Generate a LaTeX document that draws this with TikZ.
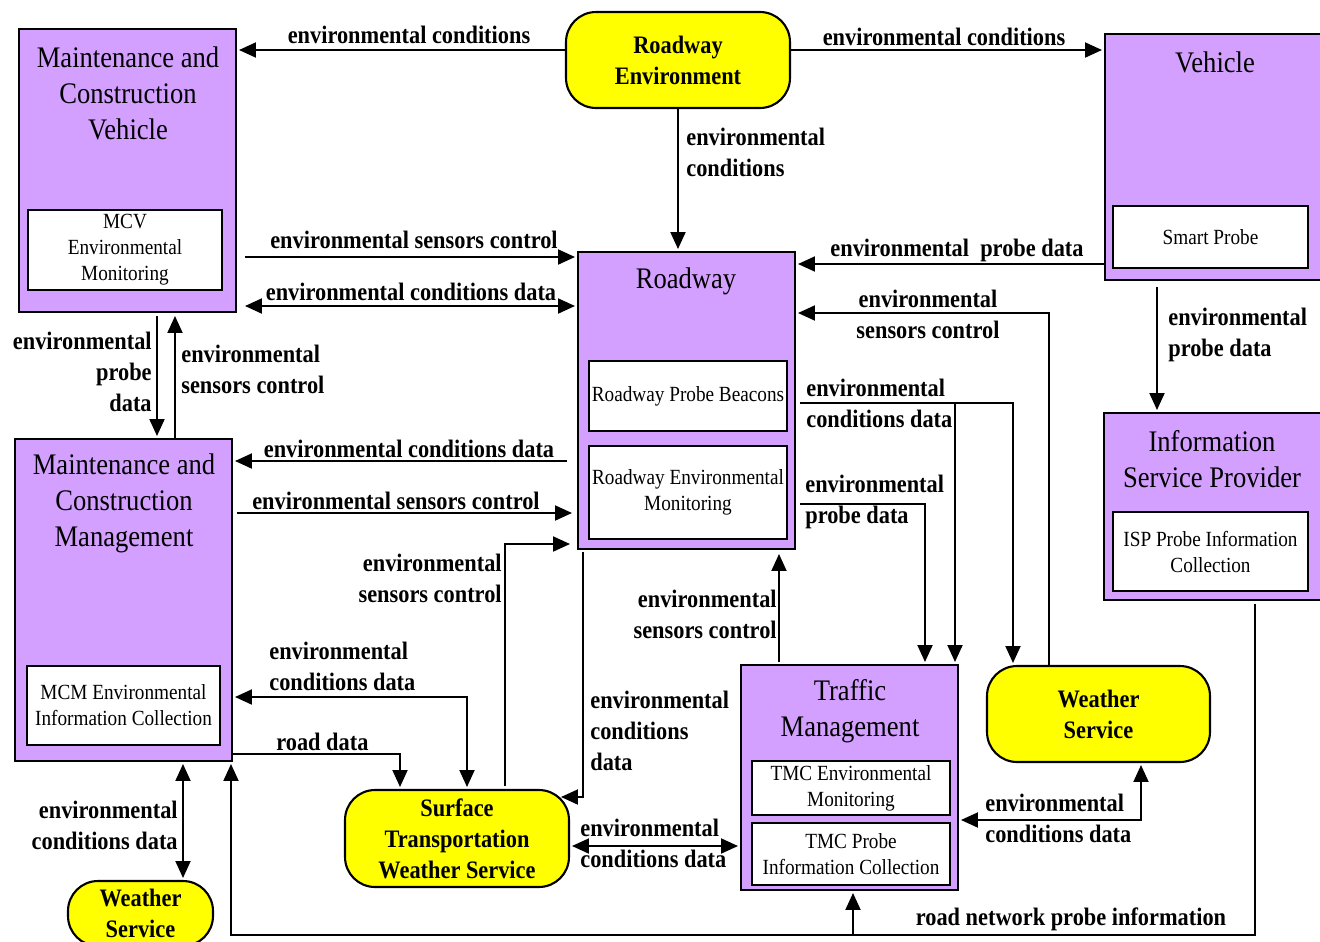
\documentclass[tikz,border=0pt]{standalone}
\usepackage{fontspec}
\setmainfont{Liberation Serif}[FakeStretch=0.89]
\usetikzlibrary{arrows.meta}
\definecolor{lav}{RGB}{212,160,255}
\definecolor{yel}{RGB}{255,255,0}

\tikzset{
  pbox/.style={draw,line width=1.2pt,fill=lav,inner sep=0pt,outer sep=0pt},
  sbox/.style={draw,line width=1.1pt,fill=white,inner sep=0pt,outer sep=0pt,align=center,font=\fontsize{12.3}{14.8}\selectfont},
  ybox/.style={draw,line width=1.2pt,fill=yel,rounded corners=0.6cm,inner sep=0pt,outer sep=0pt,align=center,font=\bfseries\fontsize{14.3}{17.6}\selectfont},
  ttl/.style={align=center,inner sep=0pt,font=\fontsize{17}{20.5}\selectfont},
  lbl/.style={inner sep=0pt,font=\bfseries\fontsize{14.3}{17.6}\selectfont},
  arr/.style={line width=1.1pt,-{Triangle[length=0.34cm,width=0.3cm]},shorten >=0.06cm},
  darr/.style={line width=1.1pt,{Triangle[length=0.34cm,width=0.3cm]}-{Triangle[length=0.34cm,width=0.3cm]},shorten >=0.06cm,shorten <=0.06cm},
}

\begin{document}
\begin{tikzpicture}[x=0.02cm,y=-0.02cm]
\useasboundingbox (0,0) rectangle (1320,941);

% boxes
\node[pbox,minimum width=4.34cm,minimum height=5.66cm] (mcv) at (127.5,170.5) {};
\node[ttl] (mcvt) at (128,93.5) {Maintenance and\\Construction\\Vehicle};
\node[sbox,minimum width=3.88cm,minimum height=1.6cm] (mcvs) at (125,250) {MCV\\Environmental\\Monitoring};

\node[ybox,minimum width=4.48cm,minimum height=1.92cm] (re) at (678,60) {Roadway\\Environment};

\node[pbox,minimum width=4.5cm,minimum height=4.92cm] (veh) at (1217.5,157) {};
\node[ttl] (veht) at (1215,62) {Vehicle};
\node[sbox,minimum width=3.9cm,minimum height=1.24cm] (vehs) at (1210.5,237) {Smart Probe};

\node[pbox,minimum width=4.34cm,minimum height=5.94cm] (rw) at (686.5,400.5) {};
\node[ttl] (rwt) at (686,281) {Roadway};
\node[sbox,minimum width=3.96cm,minimum height=1.4cm] (rwb) at (688,396) {Roadway Probe Beacons};
\node[sbox,minimum width=3.96cm,minimum height=1.86cm] (rwm) at (688,492.5) {Roadway Environmental\\Monitoring};

\node[pbox,minimum width=4.52cm,minimum height=3.74cm] (isp) at (1217,506.5) {};
\node[ttl] (ispt) at (1212,459) {Information\\Service Provider};
\node[sbox,minimum width=3.9cm,minimum height=1.58cm] (isps) at (1210.5,551.5) {ISP Probe Information\\Collection};

\node[pbox,minimum width=4.34cm,minimum height=6.44cm] (mcm) at (123.5,600) {};
\node[ttl] (mcmt) at (124,503.5) {Maintenance and\\Construction\\Management};
\node[sbox,minimum width=3.86cm,minimum height=1.58cm] (mcms) at (123.5,705.5) {MCM Environmental\\Information Collection};

\node[pbox,minimum width=4.34cm,minimum height=4.5cm] (tm) at (849.5,777.5) {};
\node[ttl] (tmt) at (850,711.5) {Traffic\\Management};
\node[sbox,minimum width=3.96cm,minimum height=1.08cm] (tmm) at (851,788) {TMC Environmental\\Monitoring};
\node[sbox,minimum width=3.96cm,minimum height=1.24cm] (tmp) at (851,854) {TMC Probe\\Information Collection};

\node[ybox,minimum width=4.46cm,minimum height=1.92cm] (ws) at (1098.5,714) {Weather\\Service};
\node[ybox,minimum width=4.48cm,minimum height=1.94cm] (stws) at (457,838.5) {Surface\\Transportation\\Weather Service};
\node[ybox,minimum width=2.9cm,minimum height=1.3cm] (wsb) at (140.5,913.5) {Weather\\Service};

% junctions
\coordinate (j1) at (955,403);
\coordinate (j2) at (231,935);
\coordinate (j3) at (853,935);

% connectors
\draw[arr] (re.west |- 0,50) -- (mcv.east |- 0,50);
\draw[arr] (re.east |- 0,50) -- (veh.west |- 0,50);
\draw[arr] (re.south) -- (re.south |- rw.north);
\draw[arr,shorten <=0.18cm] (mcv.east |- 0,257) -- (rw.west |- 0,257);
\draw[darr,shorten <=0.18cm] (mcv.east |- 0,306) -- (rw.west |- 0,306);
\draw[arr] (veh.west |- 0,264) -- (rw.east |- 0,264);
\draw[arr] (ws.north -| 1049,0) |- (rw.east |- 0,313);
\draw[arr,shorten <=0.1cm] (rw.east |- 0,403) -| (ws.north -| 1013,0);
\draw[arr] (j1) -- (tm.north -| j1);
\draw[arr,shorten <=0.1cm] (rw.east |- 0,504) -| (tm.north -| 925,0);
\draw[arr,shorten <=0.14cm] (veh.south -| 1157,0) -- (isp.north -| 1157,0);
\draw[arr,shorten <=0.08cm] (mcv.south -| 157,0) -- (mcm.north -| 157,0);
\draw[arr,shorten >=0.08cm] (mcm.north -| 175,0) -- (mcv.south -| 175,0);
\draw[arr,shorten <=0.22cm] (rw.west |- 0,461) -- (mcm.east |- 0,461);
\draw[arr,shorten <=0.1cm,shorten >=0.12cm] (mcm.east |- 0,513) -- (rw.west |- 0,513);
\draw[arr,shorten <=0.08cm,shorten >=0.16cm] (stws.north -| 505,0) |- (rw.west |- 0,544);
\draw[arr,shorten <=0.06cm,shorten >=-0.16cm] (rw.south -| 583,0) |- (stws.east |- 0,797);
\draw[arr,shorten <=0.06cm,shorten >=0.1cm] (tm.north -| 779,0) -- (rw.south -| 779,0);
\draw[darr] (stws.north -| 467,0) |- (mcm.east |- 0,697);
\draw[arr] (mcm.east |- 0,754) -| (stws.north -| 400,0);
\draw[darr] (mcm.south -| 183,0) -- (wsb.north -| 183,0);
\draw[darr] (stws.east |- 0,846) -- (tm.west |- 0,846);
\draw[darr] (ws.south -| 1141,0) |- (tm.east |- 0,820);
\draw[arr,shorten <=0.08cm] (isp.south -| 1255,0) |- (j2) -- (mcm.south -| j2);
\draw[arr] (j3) -- (tm.south -| j3);

% labels
\node[lbl] (l1) at (409,35) {environmental conditions};
\node[lbl] (l2) at (944,37) {environmental conditions};
\node[lbl,align=left,anchor=west] (l3) at (686,152.5) {environmental\\conditions};
\node[lbl] (l4) at (414,240) {environmental sensors control};
\node[lbl] (l5) at (411,292) {environmental conditions data};
\node[lbl] (l6) at (957,250) {environmental\ \ probe data};
\node[lbl,align=center] (l7) at (928,314) {environmental\\sensors control};
\node[lbl,align=left,anchor=west] (l8) at (806,403.5) {environmental\\conditions data};
\node[lbl,align=left,anchor=west] (l9) at (805,501.5) {environmental\\probe data};
\node[lbl,align=left,anchor=west] (l10) at (1168,334.5) {environmental\\probe data};
\node[lbl,align=right,anchor=east] (l11) at (152,372) {environmental\\probe\\data};
\node[lbl,align=left,anchor=west] (l12) at (181,369.5) {environmental\\sensors control};
\node[lbl] (l13) at (409,449) {environmental conditions data};
\node[lbl] (l14) at (396,501) {environmental sensors control};
\node[lbl,align=right,anchor=east] (l15) at (502,578.5) {environmental\\sensors control};
\node[lbl,align=left,anchor=west] (l16) at (590,731) {environmental\\conditions\\data};
\node[lbl,align=right,anchor=east] (l17) at (777,614.5) {environmental\\sensors control};
\node[lbl,align=left,anchor=west] (l18) at (269,666.5) {environmental\\conditions data};
\node[lbl,anchor=west] (l19) at (276,742) {road data};
\node[lbl,align=right,anchor=east] (l20) at (178,825.5) {environmental\\conditions data};
\node[lbl,align=left,anchor=west] (l21) at (580,843.5) {environmental\\conditions data};
\node[lbl,align=left,anchor=west] (l22) at (985,818.5) {environmental\\conditions data};
\node[lbl] (l23) at (1071,919) {road network probe information};
\end{tikzpicture}
\end{document}
